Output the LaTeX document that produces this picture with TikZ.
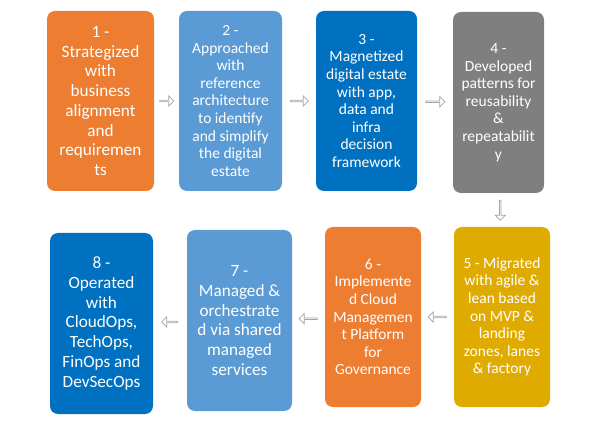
\documentclass[tikz,border=0pt]{standalone}
\usepackage{fontspec}
\setmainfont{Carlito}
\usetikzlibrary{shapes.arrows,calc}
\definecolor{stageorange}{HTML}{ED7D31}
\definecolor{stageblue}{HTML}{5B9BD5}
\definecolor{stagedeep}{HTML}{0070C0}
\definecolor{stagegray}{HTML}{7F7F7F}
\definecolor{stagegold}{HTML}{E0AB00}
\definecolor{flowline}{HTML}{A5A5A5}
\tikzset{
  stage/.style={rounded corners=8pt, text=white, align=center, inner sep=2pt,
    minimum height=180pt},
  bigtext/.style={font=\fontsize{17.2}{19.7}\selectfont},
  smalltext/.style={font=\fontsize{15.5}{17.6}\selectfont},
  flow/.style={single arrow, draw=flowline, fill=white, line width=0.8pt,
    inner sep=0pt, minimum width=10pt, minimum height=17pt,
    single arrow head extend=2.5pt}
}
\begin{document}
\begin{tikzpicture}[x=1pt,y=-1pt]
    \useasboundingbox (0,0) rectangle (592,430);
    % top row
    \node[stage,bigtext,fill=stageorange,minimum width=107pt] (s1) at (100.5,101)
        {1 -\\Strategized\\with\\business\\alignment\\and\\requiremen\\ts};
    \node[stage,smalltext,fill=stageblue,minimum width=103pt] (s2) at (230.5,101)
        {2 -\\Approached\\with\\reference\\architecture\\to identify\\and simplify\\the digital\\estate};
    \node[stage,smalltext,fill=stagedeep,minimum width=101pt] (s3) at (366.5,101)
        {3 -\\Magnetized\\digital estate\\with app,\\data and\\infra\\decision\\framework};
    \node[stage,smalltext,fill=stagegray,minimum width=91pt,minimum height=181pt] (s4) at (498.5,102.5)
        {4 -\\Developed\\patterns for\\reusability\\\&\\repeatabilit\\y};
    %
    % bottom row
    \node[stage,smalltext,fill=stagegold,minimum width=96pt] (s5) at (502,317)
        {5 - Migrated\\with agile \&\\lean based\\on MVP \&\\landing\\zones, lanes\\\& factory};
    \node[stage,smalltext,fill=stageorange,minimum width=96pt] (s6) at (373,317)
        {6 -\\Implemente\\d Cloud\\Managemen\\t Platform\\for\\Governance};
    \node[stage,bigtext,fill=stageblue,minimum width=105pt,minimum height=181pt] (s7) at (239.5,320.5)
        {7 -\\Managed \&\\orchestrate\\d via shared\\managed\\services};
    \node[stage,bigtext,fill=stagedeep,minimum width=103pt,minimum height=181pt] (s8) at (101.5,323.5)
        {8 -\\Operated\\with\\CloudOps,\\TechOps,\\FinOps and\\DevSecOps};
    %
    % arrows
    \node[flow,minimum height=14pt] (a12) at ($(s1.east)!0.5!(s2.west)$) {};
    \node[flow,minimum height=18pt] (a23) at ($(s2.east)!0.5!(s3.west)$) {};
    \node[flow,minimum height=19pt] (a34) at ($(s3.east)!0.5!(s4.west)$) {};
    \node[flow,shape border rotate=270,minimum height=20pt] (a45) at ($(s4.south)!0.5!(s5.north)$) {};
    \node[flow,shape border rotate=180,minimum height=18pt] (a56) at ($(s5.west)!0.5!(s6.east)$) {};
    \node[flow,shape border rotate=180,minimum height=18pt] (a67) at ($(s6.west)!0.5!(s7.east)$) {};
    \node[flow,shape border rotate=180,minimum height=16pt] (a78) at ($(s7.west)!0.5!(s8.east)$) {};
\end{tikzpicture}
\end{document}
